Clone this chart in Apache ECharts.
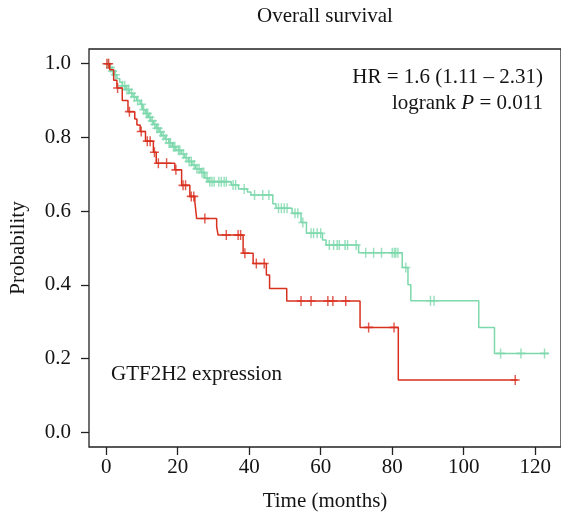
<!DOCTYPE html>
<html><head><meta charset="utf-8">
<script src="https://cdn.jsdelivr.net/npm/echarts@6/dist/echarts.min.js"></script>
<style>html,body{margin:0;padding:0;background:#fff}#c{width:561px;height:522px}</style>
</head><body><div id="c"></div>
<script>
const xTicks = [0, 20, 40, 60, 80, 100, 120];
const yTicks = [0, 0.2, 0.4, 0.6, 0.8, 1.0];

// Low expression group (green): step times and survival after each step
const lowTimes = [0,0.8,1.5,2.2,3,3.8,4.5,5.5,6.5,7.5,8.5,9.5,10.2,11,11.8,12.5,13.2,14,14.8,15.5,16.5,17.5,18.5,19.5,21,22,23,24,25,26.5,27.6,28.5,35,37,39.5,40.5,46.6,47.5,52,54.5,56,60.5,61.5,70.6,82.8,84.4,85.2,104.2,108.6,123.7];
const lowSurv  = [1,0.99,0.98,0.97,0.96,0.95,0.94,0.93,0.92,0.91,0.90,0.89,0.875,0.865,0.855,0.845,0.835,0.825,0.815,0.805,0.795,0.785,0.775,0.765,0.755,0.745,0.735,0.725,0.715,0.705,0.69,0.68,0.671,0.66,0.652,0.644,0.62,0.608,0.594,0.569,0.54,0.522,0.508,0.487,0.447,0.40,0.357,0.2845,0.214,0.214];
const lowCensor = [0.5,1.2,1.8,2.6,4.6,5.2,5.8,6.3,7.1,7.9,8.8,9.9,10.5,11.3,11.6,12.2,12.9,13.6,14.2,14.5,15.2,16,16.8,17.6,18,18.8,19.2,20.2,20.6,21.6,22.4,23.2,23.8,24.6,25.4,26,26.8,27.3,28.2,29,29.6,30.2,31.5,32.2,33,33.6,35.5,36.2,38.6,41.5,43.8,45.5,48.2,49,49.8,50.6,52.8,53.6,55,57.3,58,59,60,62.4,63.6,64.6,65.2,66.8,67.5,69.9,72.6,74.8,77,80,80.6,81,81.6,83.8,90.7,91.7,110.3,116,122.6];

// High expression group (red)
const highTimes = [0,1,2.1,3,4.5,6.1,8,8.6,9.5,11,13.2,14,19.2,21.1,23.4,24.8,25.3,30.9,31.3,38.3,41.1,44.8,45.7,50.5,71,81.7,115];
const highSurv  = [1,0.984,0.955,0.934,0.9,0.87,0.85,0.834,0.816,0.79,0.76,0.73,0.712,0.67,0.64,0.626,0.58,0.558,0.535,0.486,0.458,0.427,0.39,0.356,0.2845,0.142,0.142];
const highCensor = [0.2,0.7,3.2,6.5,9.8,11.5,12.3,13.5,14.6,16.9,19.5,21.5,22.2,23.8,24.5,27.6,33.6,36.9,37.6,38.8,42,44.2,54.5,57.3,62,63.4,67,73.4,80.5,114.4];

const GREEN = '#7dd8ac';
const RED = '#d8301f';
const INK = '#141414';
const FONT = '"Liberation Serif", "DejaVu Serif", serif';
const FS = 21;
const PLUS = 'path://M4.2,0h1.6v4.2h4.2v1.6h-4.2v4.2h-1.6v-4.2h-4.2v-1.6h4.2z';

function stepPairs(ts, ss) { return ts.map((t, i) => [t, ss[i]]); }
function survAt(ts, ss, c) {
  let v = ss[0];
  for (let i = 0; i < ts.length; i++) { if (ts[i] <= c) v = ss[i]; else break; }
  return v;
}
function censorPairs(ts, ss, cs) { return cs.map(c => [c, survAt(ts, ss, c)]); }

const chart = echarts.init(document.getElementById('c'), null, {renderer: 'canvas'});
chart.setOption({
  animation: false,
  backgroundColor: '#fff',
  textStyle: {fontFamily: FONT},
  grid: {left: 89, right: -2, top: 49, bottom: 75, show: true, borderColor: '#222', borderWidth: 1.3, backgroundColor: '#fff'},
  xAxis: {
    type: 'value', min: -4.8, max: 127.2,
    axisLine: {show: false, onZero: false},
    splitLine: {show: false},
    axisTick: {show: true, inside: false, length: 8, lineStyle: {color: '#222', width: 1.3}, customValues: xTicks},
    axisLabel: {customValues: xTicks, margin: 10, fontSize: FS, color: INK, fontFamily: FONT},
    name: 'Time (months)', nameLocation: 'middle', nameGap: 44,
    nameTextStyle: {fontSize: FS, color: INK, fontFamily: FONT}
  },
  yAxis: {
    type: 'value', min: -0.04, max: 1.04,
    axisLine: {show: false, onZero: false},
    splitLine: {show: false},
    axisTick: {show: true, inside: false, length: 8, lineStyle: {color: '#222', width: 1.3}, customValues: yTicks},
    axisLabel: {customValues: yTicks, margin: 18, fontSize: FS, color: INK, fontFamily: FONT,
      formatter: v => v.toFixed(1)},
    name: 'Probability', nameLocation: 'middle', nameGap: 60, nameRotate: 90,
    nameTextStyle: {fontSize: FS, color: INK, fontFamily: FONT}
  },
  series: [
    {type: 'line', step: 'end', showSymbol: false, data: stepPairs(lowTimes, lowSurv),
      lineStyle: {color: GREEN, width: 1.5}, z: 2},
    {type: 'scatter', symbol: PLUS, symbolSize: [9, 10], data: censorPairs(lowTimes, lowSurv, lowCensor),
      itemStyle: {color: GREEN}, z: 3},
    {type: 'line', step: 'end', showSymbol: false, data: stepPairs(highTimes, highSurv),
      lineStyle: {color: RED, width: 1.5}, z: 4},
    {type: 'scatter', symbol: PLUS, symbolSize: [9, 10], data: censorPairs(highTimes, highSurv, highCensor),
      itemStyle: {color: RED}, z: 5}
  ],
  graphic: [
    {type: 'text', x: 325, y: 16, style: {text: 'Overall survival', font: FS + 'px ' + FONT, fill: INK, align: 'center', verticalAlign: 'middle'}},
    {type: 'text', x: 543, y: 77, style: {text: 'HR = 1.6 (1.11 \u2013 2.31)', font: FS + 'px ' + FONT, fill: INK, align: 'right', verticalAlign: 'middle'}},
    {type: 'text', x: 543, y: 103, style: {text: '{n|logrank }{i|P}{n| = 0.011}', font: FS + 'px ' + FONT, fill: INK, align: 'right', verticalAlign: 'middle',
      rich: {n: {fontSize: FS, fontFamily: FONT, fill: INK}, i: {fontSize: FS, fontFamily: FONT, fontStyle: 'italic', fill: INK}}}},
    {type: 'text', x: 111, y: 374, style: {text: 'GTF2H2 expression', font: FS + 'px ' + FONT, fill: INK, align: 'left', verticalAlign: 'middle'}}
  ]
});
</script></body></html>
